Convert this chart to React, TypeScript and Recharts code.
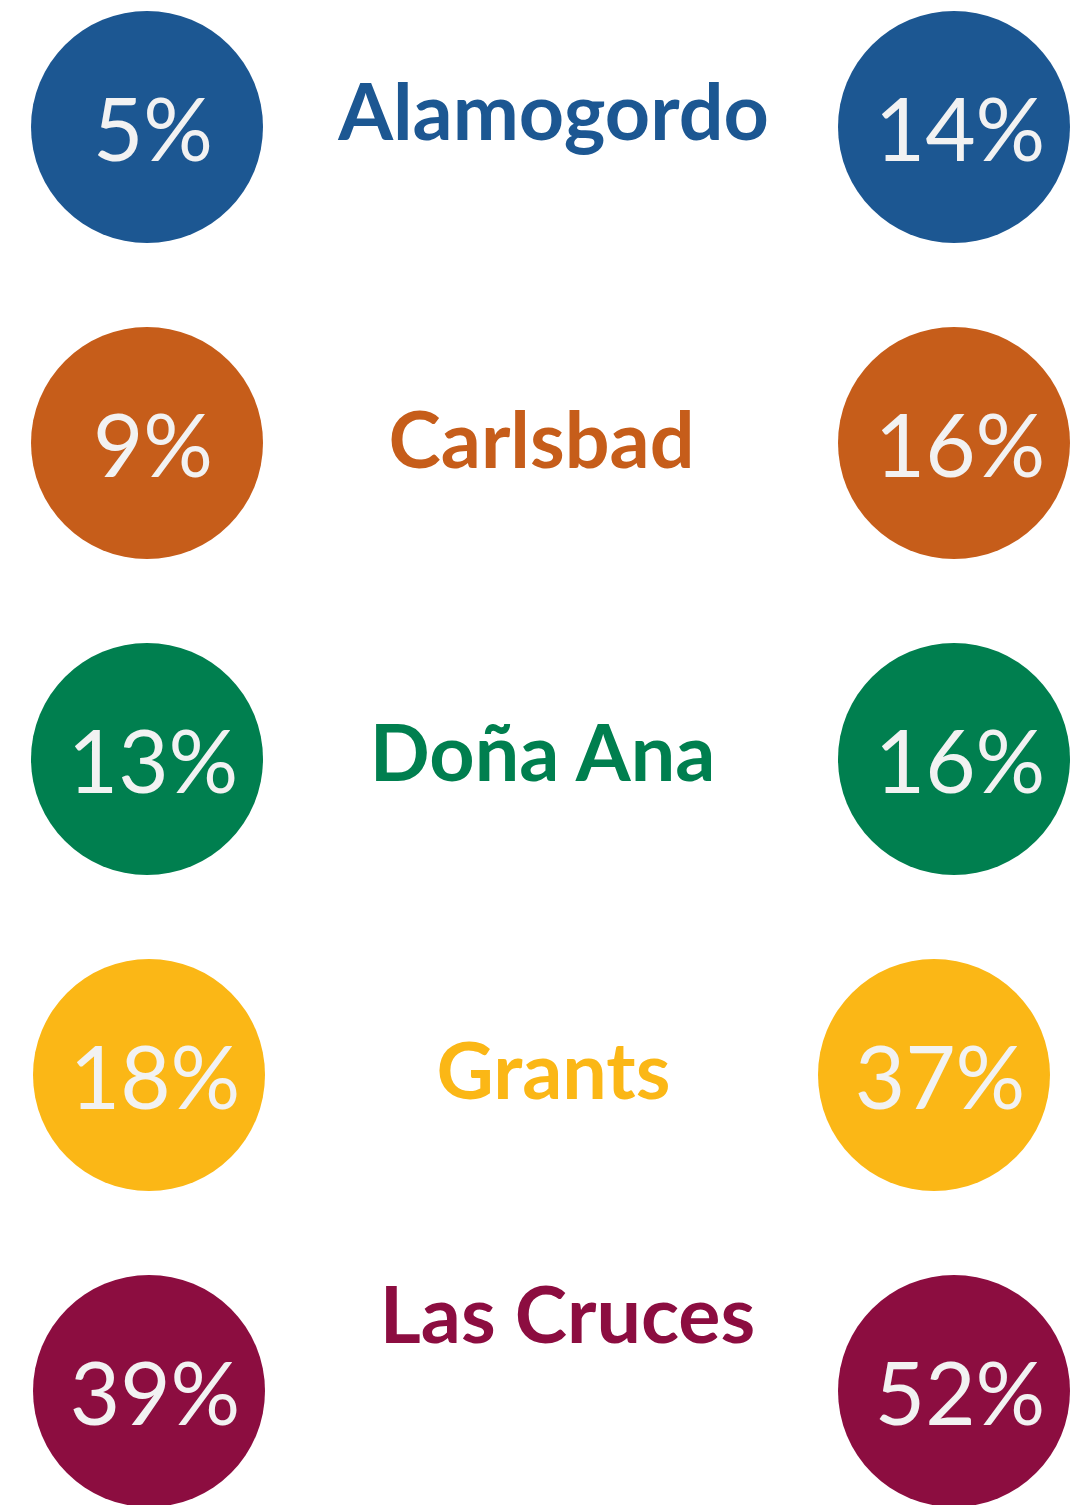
import { Scatter, ScatterChart, XAxis, YAxis } from "recharts"

const cities = ["Alamogordo", "Carlsbad", "Doña Ana", "Grants", "Las Cruces"]
const leftValues = [5, 9, 13, 18, 39]
const rightValues = [14, 16, 16, 37, 52]
const colors = ["#1C5792", "#C65D1A", "#007F4F", "#FBB716", "#8C0D40"]

// small layout nudges, px (not data)
const rightShift = [0, 0, 0, -20, 0]
const leftShift = [0, 0, 0, 2, 2]
const labelBaseline = [13, 25, 22, 24, -48]
const labelShiftX = [3, -9, -8, 3, 17]

const W = 1085
const H = 1505
const R = 116

type Row = { x: number; y: number; idx: number; value?: number; name?: string }

const leftRows: Row[] = cities.map((_, i) => ({ x: 0, y: i, idx: i, value: leftValues[i] }))
const rightRows: Row[] = cities.map((_, i) => ({ x: 1, y: i, idx: i, value: rightValues[i] }))
const labelRows: Row[] = cities.map((c, i) => ({ x: 0.5, y: i, idx: i, name: c }))

function Bubble(props: any) {
  const { cx, cy, payload, side } = props
  const i = payload.idx
  const dx = side === "left" ? leftShift[i] : rightShift[i]
  const x = cx + dx
  return (
    <g>
      <circle cx={x} cy={cy} r={R} fill={colors[i]} />
      <text
        x={x + 6}
        y={cy + 34}
        textAnchor="middle"
        fill="#F2F2F2"
        fontFamily="Lato, 'Open Sans', sans-serif"
        fontSize={87}
      >
        {payload.value}%
      </text>
    </g>
  )
}

function CityLabel(props: any) {
  const { cx, cy, payload } = props
  const i = payload.idx
  return (
    <text
      x={cx + labelShiftX[i]}
      y={cy + labelBaseline[i]}
      textAnchor="middle"
      fill={colors[i]}
      fontFamily="Lato, 'Open Sans', sans-serif"
      fontWeight={700}
      fontSize={79}
    >
      {payload.name}
    </text>
  )
}

export default function App() {
  // column 0 -> 147px, column 1 -> 954px; row step 316px starting at 127px
  const xDomain = [-147 / 807, (W - 147) / 807]
  const yDomain = [-127 / 316, (H - 127) / 316]
  return (
    <div style={{ position: "absolute", left: 0, top: 0, background: "#fff" }}>
      <ScatterChart width={W} height={H} margin={{ top: 0, right: 0, bottom: 0, left: 0 }}>
        <XAxis type="number" dataKey="x" domain={xDomain} hide allowDataOverflow />
        <YAxis type="number" dataKey="y" domain={yDomain} reversed hide allowDataOverflow />
        <Scatter
          data={leftRows}
          isAnimationActive={false}
          shape={(p: any) => <Bubble {...p} side="left" />}
        />
        <Scatter
          data={rightRows}
          isAnimationActive={false}
          shape={(p: any) => <Bubble {...p} side="right" />}
        />
        <Scatter data={labelRows} isAnimationActive={false} shape={(p: any) => <CityLabel {...p} />} />
      </ScatterChart>
    </div>
  )
}
